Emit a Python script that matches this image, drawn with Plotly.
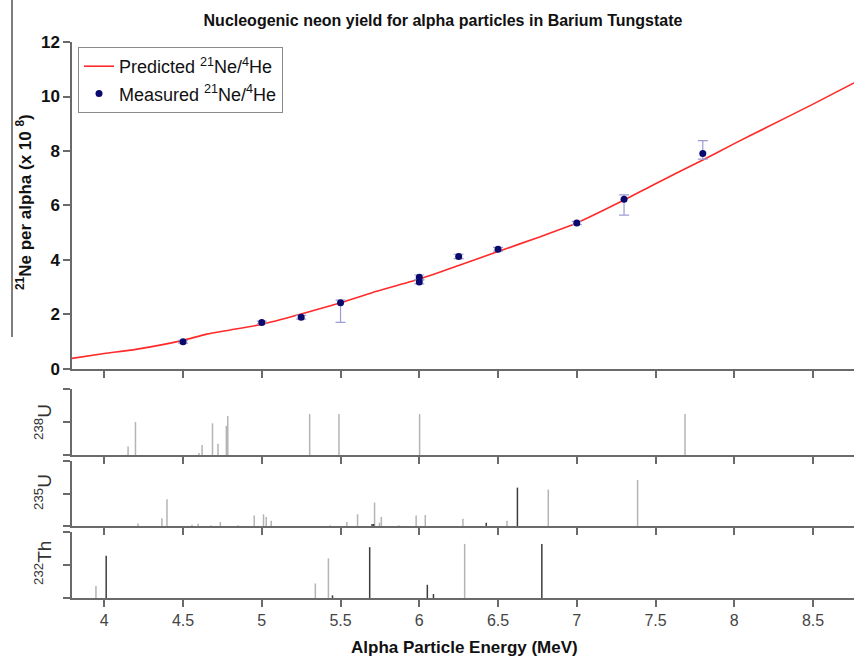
import plotly.graph_objects as go

# ---------------- data ----------------
pred_E = [3.795, 4.0, 4.2, 4.5, 4.65, 4.8, 5.0, 5.25, 5.5, 5.7, 6.0, 6.25, 6.5, 6.75, 7.0, 7.3, 7.5, 7.8, 8.0, 8.2, 8.5, 8.76]
pred_Y = [0.39, 0.57, 0.72, 1.05, 1.28, 1.43, 1.64, 2.02, 2.43, 2.8, 3.3, 3.8, 4.31, 4.82, 5.36, 6.2, 6.8, 7.67, 8.27, 8.85, 9.72, 10.5]

meas_E = [4.5, 5.0, 5.25, 5.5, 6.0, 6.0, 6.25, 6.5, 7.0, 7.3, 7.8]
meas_Y = [1.0, 1.71, 1.9, 2.43, 3.37, 3.19, 4.13, 4.39, 5.36, 6.23, 7.91]
meas_err_plus = [0.05, 0.05, 0.07, 0.10, 0.08, 0.07, 0.08, 0.07, 0.06, 0.16, 0.47]
meas_err_minus = [0.05, 0.05, 0.07, 0.72, 0.08, 0.07, 0.08, 0.07, 0.06, 0.58, 0.21]

u238_light_E = [4.151, 4.198, 4.601, 4.621, 4.687, 4.722, 4.775, 4.784, 5.304, 5.490, 6.002, 7.687]
u238_light_H = [0.13, 0.50, 0.03, 0.15, 0.48, 0.17, 0.44, 0.59, 0.62, 0.62, 0.62, 0.62]

u235_light_E = [4.214, 4.366, 4.398, 4.557, 4.596, 4.677, 4.737, 4.85, 4.952, 5.011, 5.028, 5.06,
                5.435, 5.54, 5.608, 5.716, 5.747, 5.759, 5.87, 5.98, 6.038, 6.277, 6.557, 6.819, 7.386]
u235_light_H = [0.04, 0.12, 0.41, 0.02, 0.035, 0.01, 0.06, 0.01, 0.16, 0.18, 0.14, 0.08,
                0.01, 0.06, 0.18, 0.36, 0.05, 0.14, 0.01, 0.16, 0.17, 0.11, 0.08, 0.56, 0.71]
u235_dark_E = [5.70, 5.71, 6.425, 6.623]
u235_dark_H = [0.03, 0.03, 0.05, 0.59]

th232_light_E = [3.947, 5.340, 5.423, 6.288]
th232_light_H = [0.18, 0.22, 0.60, 0.82]
th232_dark_E = [4.012, 5.449, 5.685, 6.051, 6.090, 6.778]
th232_dark_H = [0.64, 0.04, 0.77, 0.20, 0.06, 0.82]

x_ticks = [4, 4.5, 5, 5.5, 6, 6.5, 7, 7.5, 8, 8.5]
x_tick_labels = ["4", "4.5", "5", "5.5", "6", "6.5", "7", "7.5", "8", "8.5"]
y_ticks = [0, 2, 4, 6, 8, 10, 12]

# ---------------- helpers ----------------
FONT = "Liberation Sans, Arial, Helvetica, sans-serif"
LIGHT = "#b4b4b4"
DARK = "#3c3c3c"
AXIS = "#6a6a6a"


def stems(E, H):
    xs, ys = [], []
    for e, h in zip(E, H):
        xs += [e, e, None]
        ys += [0, h, None]
    return xs, ys


fig = go.Figure()

fig.add_trace(go.Scatter(
    x=pred_E, y=pred_Y, mode="lines", name="Predicted <sup>21</sup>Ne/<sup>4</sup>He",
    line=dict(color="#ff2a2a", width=1.6, shape="spline", smoothing=0.6),
    legendgroup="a", xaxis="x", yaxis="y"))

fig.add_trace(go.Scatter(
    x=meas_E, y=meas_Y, mode="markers", name="Measured <sup>21</sup>Ne/<sup>4</sup>He",
    marker=dict(color="#0a0a6e", size=7),
    error_y=dict(type="data", symmetric=False, array=meas_err_plus, arrayminus=meas_err_minus,
                 color="#9c9cd4", thickness=1.2, width=5),
    legendgroup="b", xaxis="x", yaxis="y"))

for E, H, col, ax in [
    (u238_light_E, u238_light_H, LIGHT, 2),
    (u235_light_E, u235_light_H, LIGHT, 3),
    (u235_dark_E, u235_dark_H, DARK, 3),
    (th232_light_E, th232_light_H, LIGHT, 4),
    (th232_dark_E, th232_dark_H, DARK, 4),
]:
    xs, ys = stems(E, H)
    fig.add_trace(go.Scatter(x=xs, y=ys, mode="lines", line=dict(color=col, width=1.5),
                             showlegend=False, hoverinfo="skip",
                             xaxis=f"x{ax}", yaxis=f"y{ax}"))

xr = [3.795, 8.76]
common_x = dict(range=xr, showline=True, linecolor=AXIS, linewidth=1.5, ticks="outside",
                tickvals=x_ticks, ticktext=x_tick_labels, ticklen=7, tickwidth=1.5,
                tickcolor=AXIS, showgrid=False, zeroline=False)
common_sub_y = dict(range=[0, 1], showline=True, linecolor=AXIS, linewidth=1.5, ticks="outside",
                    tickvals=[0, 0.5, 1], ticklen=7, tickwidth=1.5, tickcolor=AXIS,
                    showticklabels=False, showgrid=False, zeroline=False, fixedrange=True)

fig.update_layout(
    width=854, height=658,
    margin=dict(l=72, r=0, t=42, b=60),
    paper_bgcolor="white", plot_bgcolor="white",
    font=dict(family=FONT, color="#111"),
    title=dict(text="<b>Nucleogenic neon yield for alpha particles in Barium Tungstate</b>",
               x=443 / 854, xanchor="center", y=1 - 20 / 658, yanchor="middle",
               font=dict(size=16, color="#111")),
    xaxis=dict(domain=[0, 1], anchor="y", showticklabels=False, **common_x),
    yaxis=dict(domain=[0.4119, 1], anchor="x", range=[0, 12], tickvals=y_ticks,
               showline=True, linecolor=AXIS, linewidth=1.5, ticks="outside", ticklen=7,
               tickwidth=1.5, tickcolor=AXIS, showgrid=False, zeroline=False,
               tickfont=dict(size=17, color="#111", family=FONT, weight="bold"),
               ticklabelstandoff=0),
    xaxis2=dict(domain=[0, 1], anchor="y2", matches="x", showticklabels=False, **common_x),
    yaxis2=dict(domain=[0.2572, 0.3759], anchor="x2", **common_sub_y),
    xaxis3=dict(domain=[0, 1], anchor="y3", matches="x", showticklabels=False, **common_x),
    yaxis3=dict(domain=[0.1295, 0.2464], anchor="x3", **common_sub_y),
    xaxis4=dict(domain=[0, 1], anchor="y4", matches="x", showticklabels=True,
                tickfont=dict(size=16, color="#444", family=FONT), **common_x),
    yaxis4=dict(domain=[0, 0.1187], anchor="x4", **common_sub_y),
    legend=dict(x=0.0077, y=0.991, xanchor="left", yanchor="top",
                bgcolor="white", bordercolor="#8a8a8a", borderwidth=1,
                font=dict(size=18, color="#111", family=FONT), itemwidth=30,
                tracegroupgap=1),
    showlegend=True,
)

def ypix(p):
    return (598 - p) / 556

annots = [
    dict(text="<b><sup>21</sup>Ne per alpha (x 10 <sup>8</sup>)</b>", x=(24 - 72) / 782, y=ypix(202),
         textangle=-90, font=dict(size=17, color="#111")),
    dict(text="<b>Alpha Particle Energy (MeV)</b>", x=(464 - 72) / 782, y=ypix(648),
         font=dict(size=17, color="#111")),
    dict(text="<sup>238</sup>U", x=(43 - 72) / 782, y=ypix(422), textangle=-90,
         font=dict(size=19, color="#333")),
    dict(text="<sup>235</sup>U", x=(43 - 72) / 782, y=ypix(492), textangle=-90,
         font=dict(size=19, color="#333")),
    dict(text="<sup>232</sup>Th", x=(43 - 72) / 782, y=ypix(563), textangle=-90,
         font=dict(size=19, color="#333")),
]
for a in annots:
    fig.add_annotation(xref="paper", yref="paper", showarrow=False,
                       xanchor="center", yanchor="middle", **a)

fig.add_shape(type="line", xref="paper", yref="paper",
              x0=(12 - 72) / 782, x1=(12 - 72) / 782, y0=ypix(0), y1=ypix(337),
              line=dict(color="#555", width=1.5))

fig.write_html("out.html", config={"displayModeBar": False},
               post_script="document.body.style.margin='0';document.body.style.overflow='hidden';")
